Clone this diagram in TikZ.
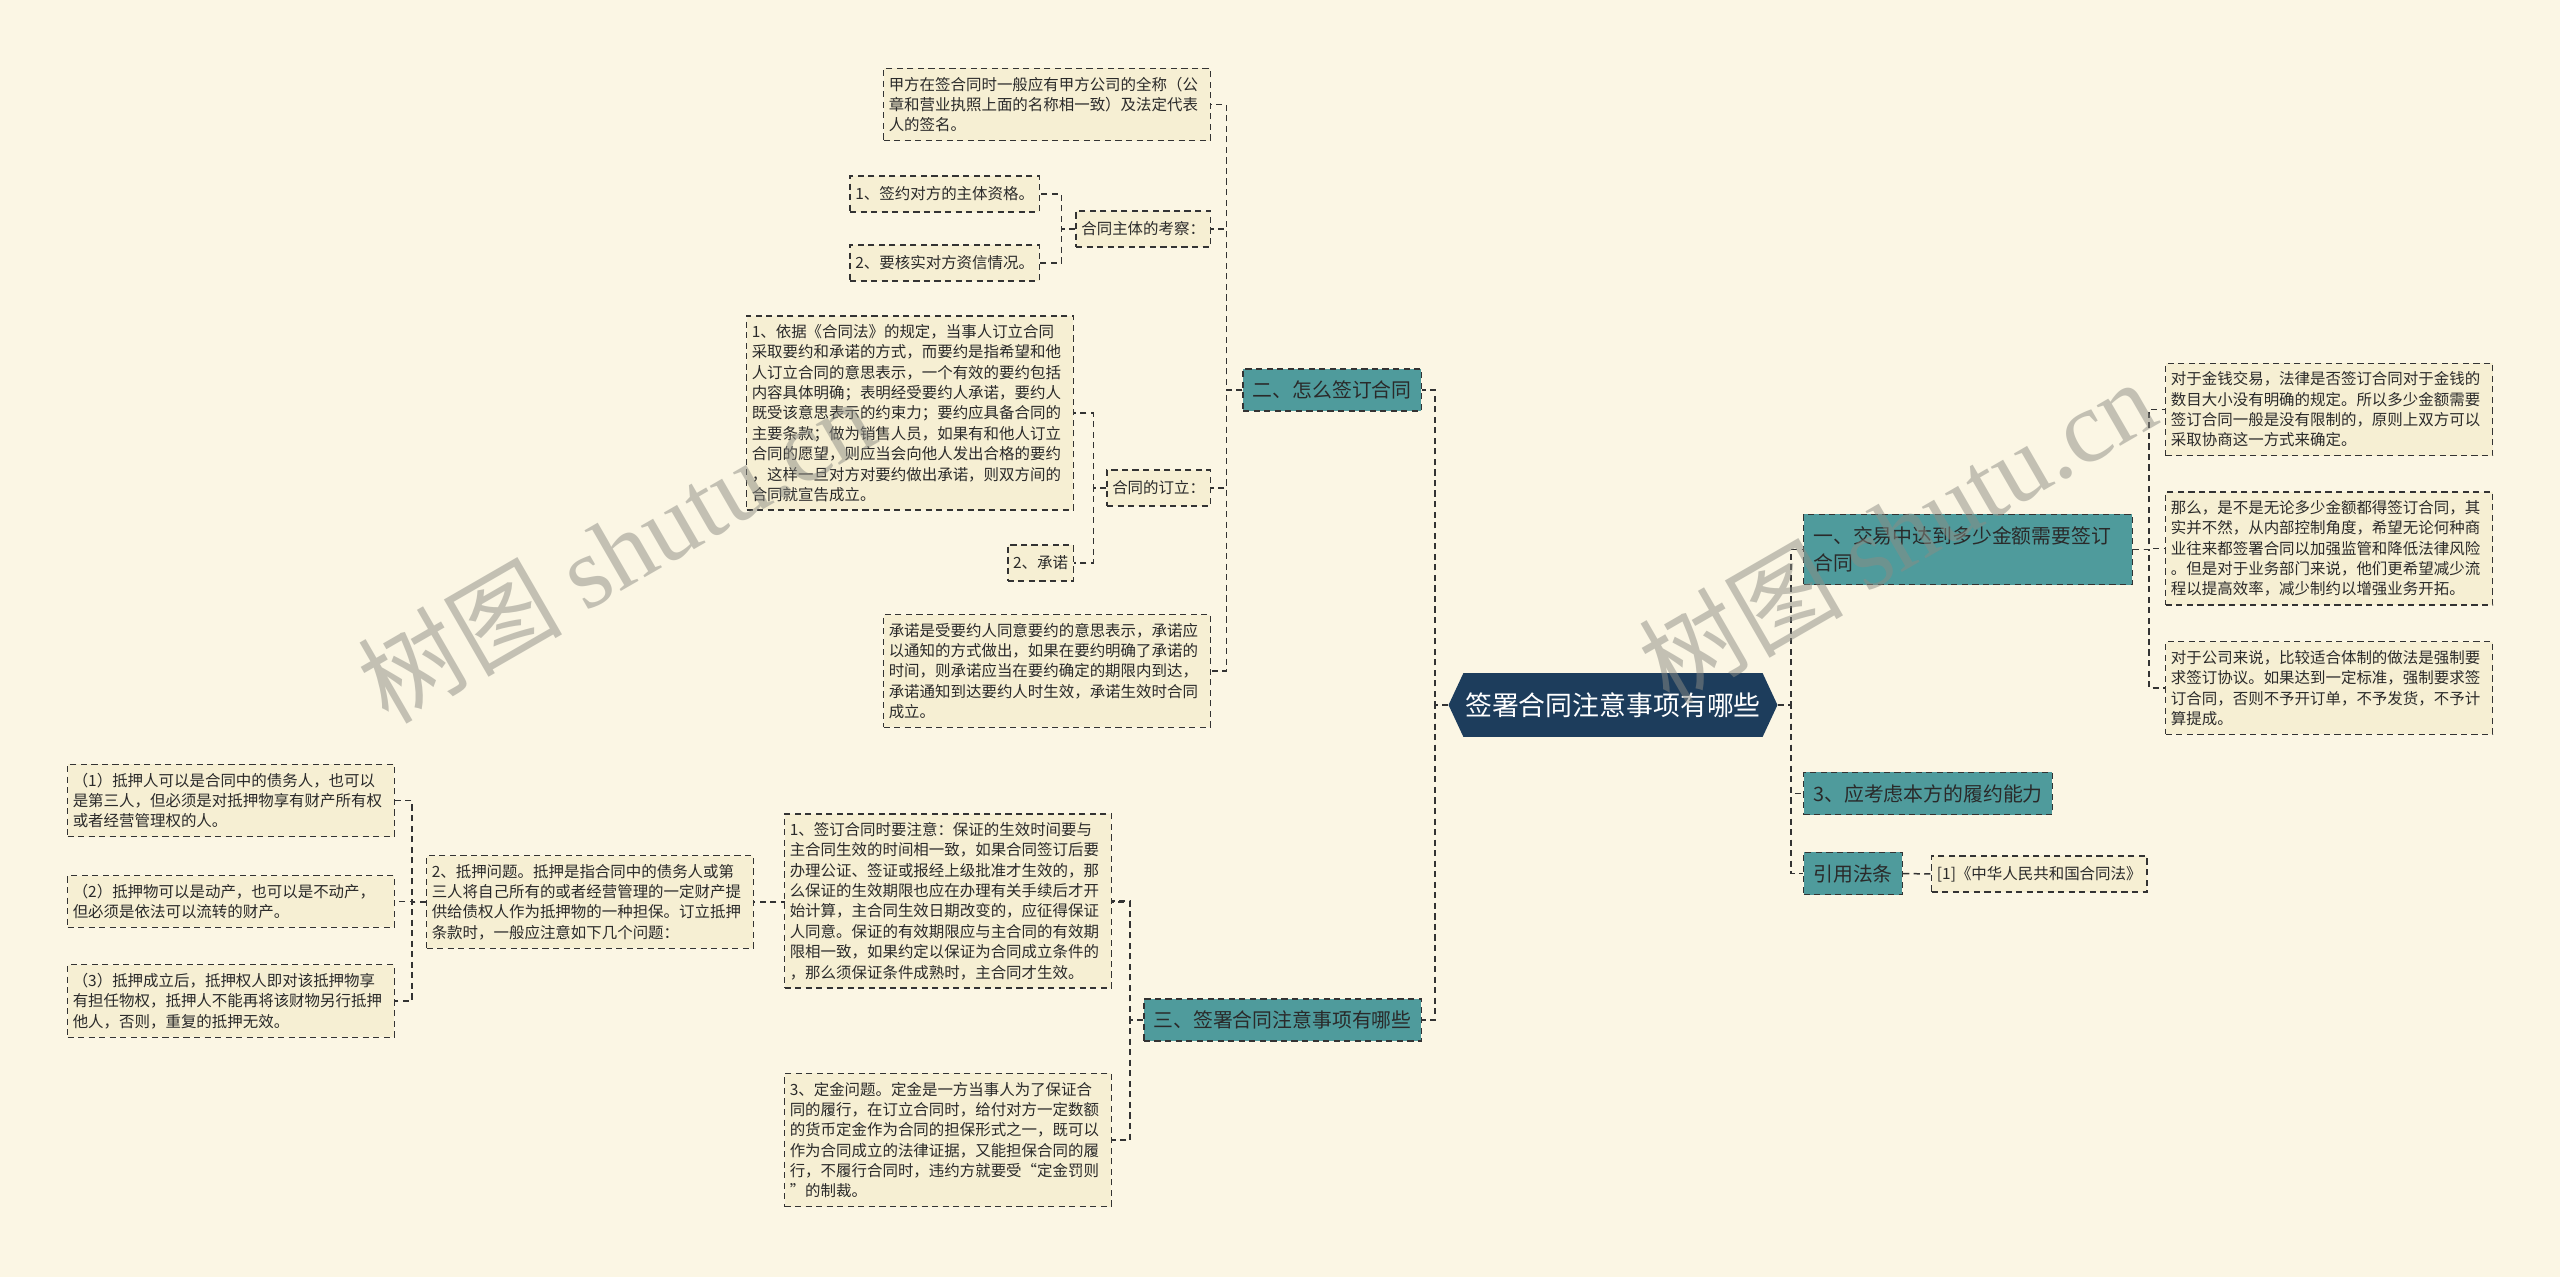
\documentclass[tikz,border=0pt]{standalone}
\usepackage{fontspec}
\setmainfont{Noto Sans CJK SC}
\newfontfamily\wmserif{Liberation Serif}
\usetikzlibrary{shapes.symbols,backgrounds}
\definecolor{paper}{HTML}{FBF6E4}
\definecolor{leaffill}{HTML}{F6EFD3}
\definecolor{topicteal}{HTML}{4F9B9C}
\definecolor{rootnavy}{HTML}{1D3D5C}
\definecolor{linegray}{HTML}{333333}
\definecolor{inkgray}{HTML}{2A2A2A}
\definecolor{markgray}{HTML}{8C8C84}

\begin{document}
\begin{tikzpicture}[
    x=0.02cm, y=-0.02cm,
    link/.style={draw=linegray, line width=0.85pt, dash pattern=on 3.5pt off 2.5pt},
    leaf/.style={draw=linegray, line width=0.8pt, dash pattern=on 3.5pt off 2.5pt,
      fill=leaffill, text=inkgray, font=\fontsize{8.8}{11.6}\selectfont,
      align=left, inner xsep=3pt, inner ysep=4.8pt},
    para/.style={leaf, text width=180pt},
    tag/.style={leaf, minimum height=20.4pt},
    topic/.style={draw=linegray, line width=0.8pt, dash pattern=on 3.5pt off 2.5pt,
      fill=topicteal, text=inkgray, font=\fontsize{11.3}{15}\selectfont,
      align=left, inner xsep=5.5pt, minimum height=24pt},
    root/.style={shape=signal, signal to=west and east, signal pointer angle=130,
      fill=rootnavy, text=white, font=\fontsize{15.3}{18}\selectfont,
      inner xsep=1pt, minimum height=36.3pt},
    wmark/.style={text=markgray, text opacity=0.5, rotate=30,
      font=\fontsize{58}{60}\selectfont}
  ]
  \useasboundingbox (0,0) rectangle (2560,1277);

  % Root
  \node[root] (root) at (1613,705) {签署合同注意事项有哪些};

  % Left: how to sign
  \node[topic, anchor=east] (two) at (1422,390) {二、怎么签订合同};
  \node[para, anchor=east] (fullname) at (1211,104.5) {甲方在签合同时一般应有甲方公司的全称（公\\章和营业执照上面的名称相一致）及法定代表\\人的签名。};
  \node[tag, anchor=east] (subject) at (1211,229) {合同主体的考察：};
  \node[tag, anchor=east] (qualify) at (1040,194) {1、签约对方的主体资格。};
  \node[tag, anchor=east] (credit) at (1040,263) {2、要核实对方资信情况。};
  \node[tag, anchor=east] (forming) at (1211,488) {合同的订立：};
  \node[para, anchor=east] (offer) at (1074,413) {1、依据《合同法》的规定，当事人订立合同\\采取要约和承诺的方式，而要约是指希望和他\\人订立合同的意思表示，一个有效的要约包括\\内容具体明确；表明经受要约人承诺，要约人\\既受该意思表示的约束力；要约应具备合同的\\主要条款；做为销售人员，如果有和他人订立\\合同的愿望，则应当会向他人发出合格的要约\\，这样一旦对方对要约做出承诺，则双方间的\\合同就宣告成立。};
  \node[tag, anchor=east] (accept) at (1074,563) {2、承诺};
  \node[para, anchor=east] (acceptnote) at (1211,671) {承诺是受要约人同意要约的意思表示，承诺应\\以通知的方式做出，如果在要约明确了承诺的\\时间，则承诺应当在要约确定的期限内到达，\\承诺通知到达要约人时生效，承诺生效时合同\\成立。};

  % Left: what to watch
  \node[topic, anchor=east] (three) at (1422,1020) {三、签署合同注意事项有哪些};
  \node[para, anchor=east] (mortgage) at (754,902) {2、抵押问题。抵押是指合同中的债务人或第\\三人将自己所有的或者经营管理的一定财产提\\供给债权人作为抵押物的一种担保。订立抵押\\条款时，一般应注意如下几个问题：};
  \node[para, anchor=east] (mortA) at (395,800.5) {（1）抵押人可以是合同中的债务人，也可以\\是第三人，但必须是对抵押物享有财产所有权\\或者经营管理权的人。};
  \node[para, anchor=east] (mortB) at (395,901.5) {（2）抵押物可以是动产，也可以是不动产，\\但必须是依法可以流转的财产。};
  \node[para, anchor=east] (mortC) at (395,1001) {（3）抵押成立后，抵押权人即对该抵押物享\\有担任物权，抵押人不能再将该财物另行抵押\\他人，否则，重复的抵押无效。};
  \node[para, anchor=east] (guarantee) at (1112,901) {1、签订合同时要注意：保证的生效时间要与\\主合同生效的时间相一致，如果合同签订后要\\办理公证、签证或报经上级批准才生效的，那\\么保证的生效期限也应在办理有关手续后才开\\始计算，主合同生效日期改变的，应征得保证\\人同意。保证的有效期限应与主合同的有效期\\限相一致，如果约定以保证为合同成立条件的\\，那么须保证条件成熟时，主合同才生效。};
  \node[para, anchor=east] (deposit) at (1112,1140) {3、定金问题。定金是一方当事人为了保证合\\同的履行，在订立合同时，给付对方一定数额\\的货币定金作为合同的担保形式之一，既可以\\作为合同成立的法律证据，又能担保合同的履\\行，不履行合同时，违约方就要受“定金罚则\\”的制裁。};

  % Right
  \node[topic, anchor=west, text width=176pt, minimum height=40pt] (one) at (1803,549.5) {一、交易中达到多少金额需要签订\\合同};
  \node[para, anchor=west] (money) at (2165,409.5) {对于金钱交易，法律是否签订合同对于金钱的\\数目大小没有明确的规定。所以多少金额需要\\签订合同一般是没有限制的，原则上双方可以\\采取协商这一方式来确定。};
  \node[para, anchor=west] (control) at (2165,548.5) {那么，是不是无论多少金额都得签订合同，其\\实并不然，从内部控制角度，希望无论何种商\\业往来都签署合同以加强监管和降低法律风险\\。但是对于业务部门来说，他们更希望减少流\\程以提高效率，减少制约以增强业务开拓。};
  \node[para, anchor=west] (company) at (2165,688) {对于公司来说，比较适合体制的做法是强制要\\求签订协议。如果达到一定标准，强制要求签\\订合同，否则不予开订单，不予发货，不予计\\算提成。};
  \node[topic, anchor=west] (ability) at (1803,793.5) {3、应考虑本方的履约能力};
  \node[topic, anchor=west] (law) at (1803,873.5) {引用法条};
  \node[tag, anchor=west] (lawref) at (1931,874) {[1]《中华人民共和国合同法》};

  % Connectors
  \begin{scope}[on background layer]
    \fill[paper] (0,0) rectangle (2560,1277);
    \draw[link] (root.west) -- ++(-13,0) |- (two.east);
    \draw[link] (root.west) -- ++(-13,0) |- (three.east);
    \draw[link] (two.west) -- ++(-16,0) |- (fullname.east);
    \draw[link] (two.west) -- ++(-16,0) |- (subject.east);
    \draw[link] (two.west) -- ++(-16,0) |- (forming.east);
    \draw[link] (two.west) -- ++(-16,0) |- (acceptnote.east);
    \draw[link] (subject.west) -- ++(-14,0) |- (qualify.east);
    \draw[link] (subject.west) -- ++(-14,0) |- (credit.east);
    \draw[link] (forming.west) -- ++(-13,0) |- (offer.east);
    \draw[link] (forming.west) -- ++(-13,0) |- (accept.east);
    \draw[link] (three.west) -- ++(-13,0) |- (guarantee.east);
    \draw[link] (three.west) -- ++(-13,0) |- (mortgage.east);
    \draw[link] (three.west) -- ++(-13,0) |- (deposit.east);
    \draw[link] (mortgage.west) -- ++(-14,0) |- (mortA.east);
    \draw[link] (mortgage.west) -- ++(-14,0) |- (mortB.east);
    \draw[link] (mortgage.west) -- ++(-14,0) |- (mortC.east);
    \draw[link] (root.east) -- ++(13,0) |- (one.west);
    \draw[link] (root.east) -- ++(13,0) |- (ability.west);
    \draw[link] (root.east) -- ++(13,0) |- (law.west);
    \draw[link] (one.east) -- ++(16,0) |- (money.west);
    \draw[link] (one.east) -- ++(16,0) |- (control.west);
    \draw[link] (one.east) -- ++(16,0) |- (company.west);
    \draw[link] (law.east) -- (lawref.west);
  \end{scope}

  % Watermarks
  \node[wmark] (markL) at (616,550) {树图 {\wmserif shutu.cn}};
  \node[wmark] (markR) at (1897,531) {树图 {\wmserif shutu.cn}};
\end{tikzpicture}
\end{document}
